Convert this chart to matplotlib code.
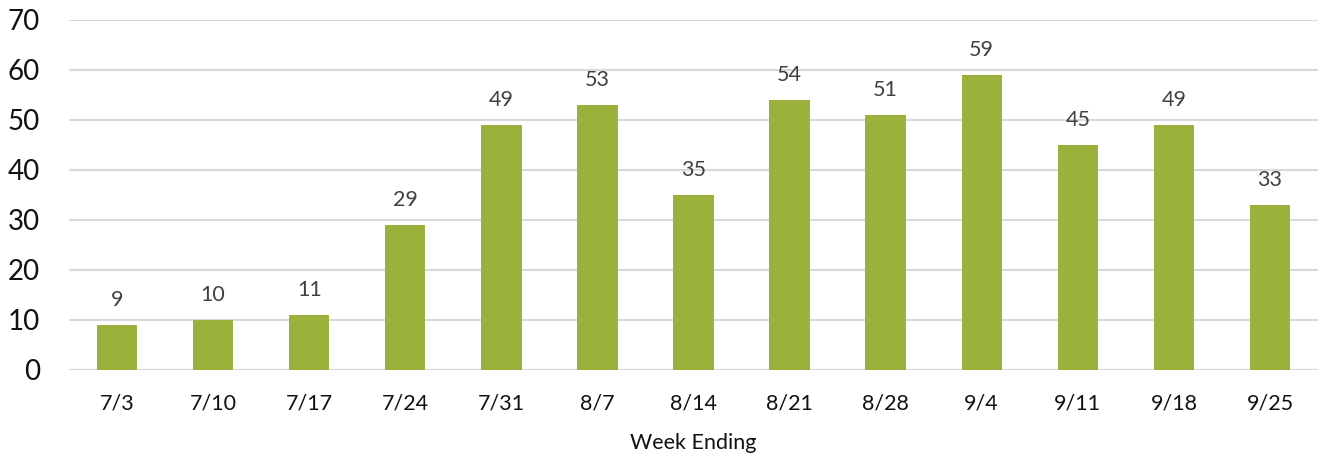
import matplotlib
matplotlib.use('Agg')
import matplotlib.pyplot as plt
import numpy as np

weeks = ['7/3', '7/10', '7/17', '7/24', '7/31', '8/7', '8/14',
         '8/21', '8/28', '9/4', '9/11', '9/18', '9/25']
counts = [9, 10, 11, 29, 49, 53, 35, 54, 51, 59, 45, 49, 33]

plt.rcParams['font.family'] = ['Lato', 'DejaVu Sans']

fig = plt.figure(figsize=(13.2, 4.58), dpi=100)
ax = fig.add_axes([69 / 1320, 88 / 458, 1249 / 1320, 350 / 458])

x = np.arange(len(weeks))
bars = ax.bar(x, counts, width=0.42, color='#9AB23B', zorder=3)
for rect, val in zip(bars, counts):
    ax.annotate(str(val), (rect.get_x() + rect.get_width() / 2, val),
                xytext=(0, 11), textcoords='offset points',
                ha='center', va='bottom', fontsize=15.5, color='#404040')

ax.set_xlim(-0.5, len(weeks) - 0.5)
ax.set_ylim(0, 70)
ax.set_yticks(range(0, 71, 10))
ax.set_xticks(x)
ax.set_xticklabels(weeks)
ax.tick_params(axis='y', length=0, pad=21, labelsize=20, labelcolor='#111111')
ax.tick_params(axis='x', length=0, pad=17, labelsize=15.5, labelcolor='#111111')
ax.yaxis.grid(True, color='#D9D9D9', linewidth=1.5, zorder=0)
for spine in ax.spines.values():
    spine.set_visible(False)
ax.axhline(0, color='#D9D9D9', linewidth=1.5, zorder=1)
ax.set_xlabel('Week Ending', fontsize=15.5, color='#111111', labelpad=14)

fig.savefig('out.png', dpi=100)
